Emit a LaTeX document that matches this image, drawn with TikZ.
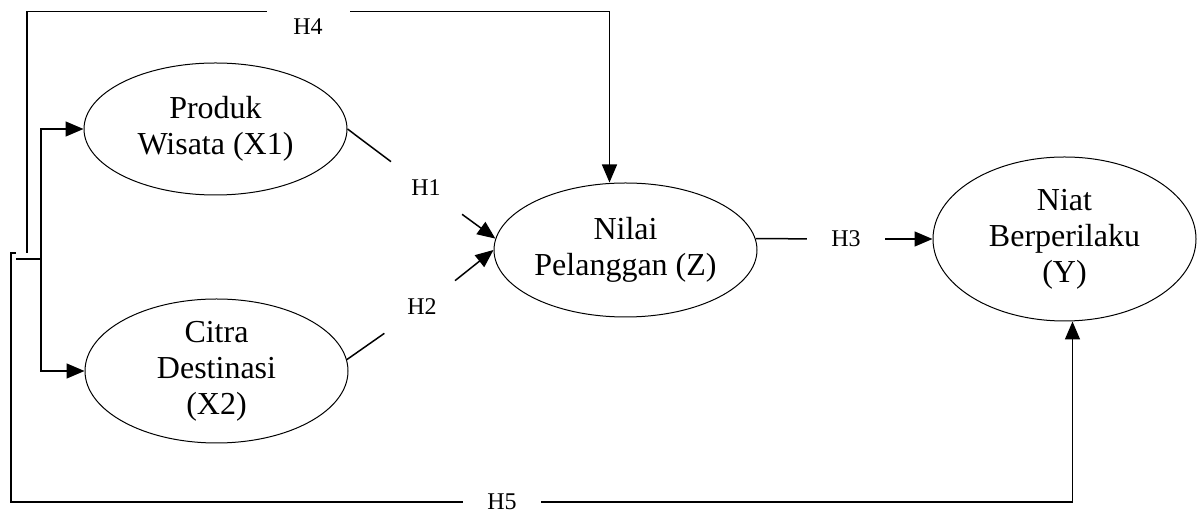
\documentclass[tikz,border=0pt]{standalone}
\usepackage{fontspec}
\setmainfont{Liberation Serif}
\usetikzlibrary{arrows.meta,shapes.geometric}

\begin{document}
\begin{tikzpicture}[
    x=0.5pt, y=-0.5pt,
    konstruk/.style={
      ellipse, draw, line width=0.5pt, inner sep=0pt,
      minimum width=131.5pt, minimum height=67pt,
      align=center, font=\fontsize{16}{18}\selectfont
    },
    hip/.style={
      inner xsep=12pt, inner ysep=9pt,
      font=\fontsize{12}{14}\selectfont
    },
    garis/.style={line width=0.75pt},
    arr/.style={garis, -{Triangle[length=9pt,width=7.5pt]}}
  ]
  \useasboundingbox (0,0) rectangle (1200,517);

  % Constructs
  \node[konstruk, minimum height=66pt] (x1) at (215.5,129)
    {Produk\\Wisata (X1)};
  \node[konstruk, minimum height=72pt] (x2) at (216.5,371)
    {Citra\\Destinasi\\(X2)};
  \node[konstruk] (z) at (625.5,250)
    {Nilai\\Pelanggan (Z)};
  \node[konstruk, minimum height=82pt] (y) at (1064.5,239)
    {Niat\\Berperilaku\\(Y)};

  % Hypothesis labels
  \node[hip] (h1) at (426,188) {H1};
  \node[hip] (h2) at (422,307) {H2};
  \node[hip] (h3) at (846,239) {H3};
  \node[hip] (h4) at (308,27) {H4};
  \node[hip] (h5) at (502,502) {H5};

  % Left fork and outer lines
  \coordinate (fork) at (41,259);
  \coordinate (stub) at (16,259);
  \coordinate (h4kaki) at (27,253);
  \coordinate (h4kiri) at (267,11.7);
  \coordinate (h4kanan) at (350,11.7);
  \coordinate (h5kaki) at (11,253);
  \coordinate (h5tik) at (16,253);

  \draw[garis] (stub) -- (fork);
  \draw[arr] (fork) |- (x1);
  \draw[arr] (fork) |- (x2);

  \draw[garis] (h4kaki) |- (h4kiri);
  \draw[arr] (h4kanan) -| ([xshift=-8pt]z.north);
  \draw[garis] (h5tik) -- (h5kaki) |- (h5);
  \draw[arr] (h5) -| ([xshift=4pt]y.south);

  % Paths H1 - H3
  \draw[garis] (x1.east) -- (h1);
  \draw[arr] (h1) -- (z.175);
  \draw[garis] (x2.5) -- (h2);
  \draw[arr] (h2) -- (z.west);
  \draw[garis] (z.5) -- (h3);
  \draw[arr] (h3) -- (y);
\end{tikzpicture}
\end{document}
